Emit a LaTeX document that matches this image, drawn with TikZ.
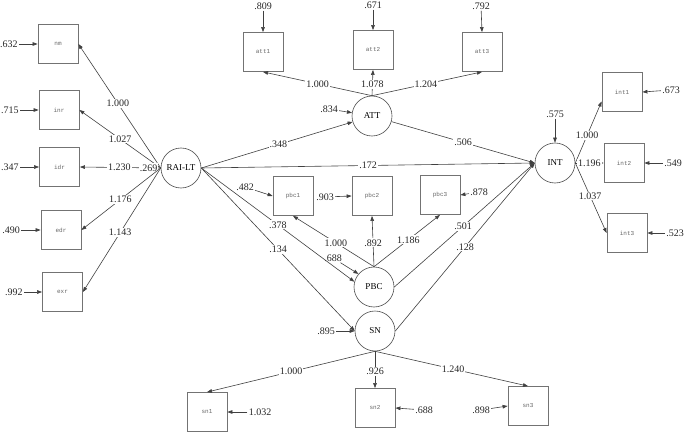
\documentclass[tikz,border=0pt]{standalone}
\usepackage{fontspec}
\setmainfont{Liberation Serif}
\setmonofont{Liberation Mono}
\usetikzlibrary{arrows.meta}

\begin{document}
\begin{tikzpicture}[x=1pt,y=-1pt,>={Triangle[length=5pt,width=3.6pt]},line width=0.6pt,
  obs/.style={draw=black!55,line width=0.8pt,minimum width=40pt,minimum height=39pt,
    inner sep=0pt,font=\ttfamily\fontsize{6}{7}\selectfont,text=black!60},
  lat/.style={circle,draw=black!70,minimum size=40pt,inner sep=0pt,
    font=\fontsize{9}{10}\selectfont},
  num/.style={inner sep=1pt,font=\fontsize{10}{11}\selectfont,text=black!85},
  wt/.style={num,fill=white},
  link/.style={draw=black!75,->}]
  \useasboundingbox (0,0) rectangle (685,433);

  % 潜变量
  \node[lat] (rai) at (181,168) {RAI-LT};
  \node[lat] (att) at (372,116) {ATT};
  \node[lat] (pbc) at (374,287) {PBC};
  \node[lat] (sn)  at (375,331) {SN};
  \node[lat] (int) at (555,163) {INT};

  % 观测变量
  \node[obs] (nm)  at (58,44)    {nm};
  \node[obs] (inr) at (59,110)   {inr};
  \node[obs] (idr) at (59.5,167) {idr};
  \node[obs] (edr) at (61,230)   {edr};
  \node[obs] (exr) at (62.5,292) {exr};
  \node[obs] (att1) at (263,52) {att1};
  \node[obs] (att2) at (373,50) {att2};
  \node[obs] (att3) at (482,52) {att3};
  \node[obs] (pbc1) at (293,196) {pbc1};
  \node[obs] (pbc2) at (372,196) {pbc2};
  \node[obs] (pbc3) at (440,195) {pbc3};
  \node[obs] (int1) at (622,92)  {int1};
  \node[obs] (int2) at (624,163) {int2};
  \node[obs] (int3) at (627,233) {int3};
  \node[obs] (sn1) at (207,412) {sn1};
  \node[obs] (sn2) at (375,408) {sn2};
  \node[obs] (sn3) at (528,406) {sn3};

  % 误差项
  \node[num] (enm)  at (9,44)   {.632};
  \node[num] (einr) at (10,110) {.715};
  \node[num] (eidr) at (10,167) {.347};
  \node[num] (eedr) at (11,230) {.490};
  \node[num] (eexr) at (14,292) {.992};
  \node[num] (eatt1) at (263,6) {.809};
  \node[num] (eatt2) at (373,5) {.671};
  \node[num] (eatt3) at (481,6) {.792};
  \node[num] (eatt) at (329,109) {.834};
  \node[num] (epbc1) at (245,187) {.482};
  \node[num] (epbc2) at (325,197) {.903};
  \node[num] (epbc3) at (479,192) {.878};
  \node[num] (epbc) at (333,258) {.688};
  \node[num] (eint) at (555,114) {.575};
  \node[num] (eint1) at (671,90)  {.673};
  \node[num] (eint2) at (673,163) {.549};
  \node[num] (eint3) at (675,233) {.523};
  \node[num] (esn) at (326,331) {.895};
  \node[num] (esn1) at (260,412) {1.032};
  \node[num] (esn2) at (424,410) {.688};
  \node[num] (esn3) at (481,410) {.898};

  \draw[link] (enm) -- (nm.west);
  \draw[link] (einr) -- (inr.west);
  \draw[link] (eidr) -- (idr.west);
  \draw[link] (eedr) -- (edr.west);
  \draw[link] (eexr) -- (exr.west);
  \draw[link] (eatt1) -- (att1.north);
  \draw[link] (eatt2) -- (att2.north);
  \draw[link] (eatt3) -- (att3.north);
  \draw[link] (eatt) -- (att);
  \draw[link] (epbc1) -- (pbc1.west);
  \draw[link] (epbc2) -- (pbc2.west);
  \draw[link] (epbc3) -- (pbc3.east);
  \draw[link] (epbc) -- (pbc.140);
  \draw[link] (eint) -- (int.north);
  \draw[link] (eint1) -- (int1.east);
  \draw[link] (eint2) -- (int2.east);
  \draw[link] (eint3) -- (int3.east);
  \draw[link] (esn) -- (sn.west);
  \draw[link] (esn1) -- (sn1.east);
  \draw[link] (esn2) -- (sn2.east);
  \draw[link] (esn3) -- (sn3.west);

  % 测量模型
  \draw[link] (rai.west) -- node[wt,pos=.52] {1.000} (nm.east);
  \draw[link] (rai.west) -- node[wt,pos=.5]  {1.027} (inr.east);
  \draw[link] (rai.west) -- node[wt,pos=.15] {.269} node[wt,pos=.51] {1.230} (idr.east);
  \draw[link] (rai.west) -- node[wt,pos=.51] {1.176} (edr.east);
  \draw[link] (rai.west) -- node[wt,pos=.52] {1.143} (exr.east);
  \draw[link] (att.north) -- node[wt,pos=.5]  {1.000} (att1.south);
  \draw[link] (att.north) -- node[wt,pos=.43] {1.078} (att2.south);
  \draw[link] (att.north) -- node[wt,pos=.49] {1.204} (att3.south);
  \draw[link] (pbc.north) -- node[wt,pos=.47] {1.000} (pbc1.south);
  \draw[link] (pbc.north) -- node[wt,pos=.47] {.892}  (pbc2.south);
  \draw[link] (pbc.north) -- node[wt,pos=.52] {1.186} (pbc3.south);
  \draw[link] (int.east) -- node[wt,pos=.45] {1.000} (int1.205);
  \draw[link] (int.east) -- node[wt,pos=.5]  {1.196} (int2.west);
  \draw[link] (int.east) -- node[wt,pos=.47] {1.037} (int3.west);
  \draw[link] (sn.south) -- node[wt,pos=.5]  {1.000} (sn1.north);
  \draw[link] (sn.south) -- node[wt,pos=.54] {.926}  (sn2.north);
  \draw[link] (sn.south) -- node[wt,pos=.51] {1.240} (sn3.north);

  % 结构路径
  \draw[link] (rai.east) -- node[wt,pos=.51] {.348} (att);
  \draw[link] (rai.east) -- node[wt,pos=.5]  {.172} (int.west);
  \draw[link] (rai.east) -- node[wt,pos=.5]  {.378} (pbc.165);
  \draw[link] (rai.east) -- node[wt,pos=.5]  {.134} (sn.west);
  \draw[link] (att) -- node[wt,pos=.5]  {.506} (int.west);
  \draw[link] (pbc.east) -- node[wt,pos=.49] {.501} (int.west);
  \draw[link] (sn.east) -- node[wt,pos=.5]  {.128} (int.west);
\end{tikzpicture}
\end{document}
